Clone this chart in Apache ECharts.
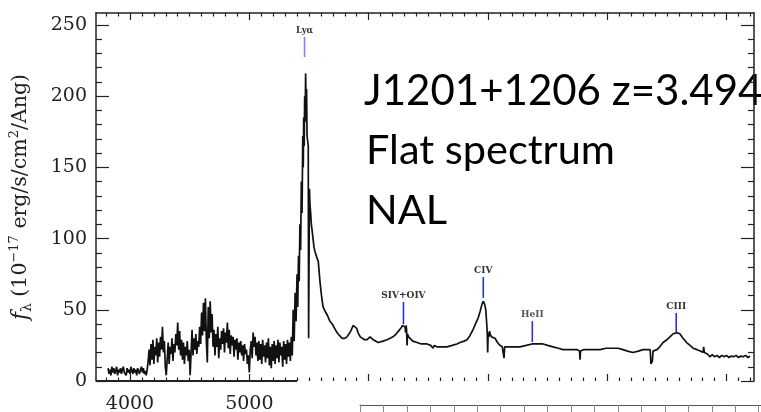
<!DOCTYPE html>
<html>
<head>
<meta charset="utf-8">
<script src="https://cdn.jsdelivr.net/npm/echarts@6/dist/echarts.min.js"></script>
<style>
  html, body { margin: 0; padding: 0; background: #fff; }
  #chart { width: 761px; height: 412px; }
</style>
</head>
<body>
<div id="chart"></div>
<script>
// Observed-frame spectrum of J1201+1206 (wavelength in Angstrom, flux in 1e-17 erg/s/cm^2/Ang)
const wavelength = [
  3816,3824,3832,3840,3848,3856,3864,3872,3880,3888,3896,3904,3912,3920,3928,3936,3944,3952,3960,3968,3976,3984,3992,4000,4008,4016,4024,4032,4040,4048,4056,4064,4072,4080,4088,4096,4104,4112,4120,4128,4136,4144,
  4152,4160,4168,4176,4184,4192,4200,4208,4216,4224,4232,4240,4248,4256,4264,4272,4280,4288,4296,4304,
  4312,4320,4328,4336,4344,4352,4360,4368,4376,4384,4392,4400,4408,4416,4424,4432,4440,4448,4456,4464,4472,4480,4488,4496,4504,
  4512,4520,4528,4536,4544,4552,4560,4568,4576,
  4584,4592,4600,4608,4616,4624,4632,4640,4648,4656,4664,4672,4680,4688,4696,
  4704,4712,4720,4728,4736,4744,4752,4760,4768,4776,4784,4792,4800,4808,4816,4824,4832,4840,4848,4856,
  4864,4872,4880,4888,4896,4904,4912,4920,4928,4936,4944,4952,4960,4968,4976,4984,4992,5000,
  5008,5016,5024,5032,5040,5048,5056,5064,5072,
  5080,5088,5096,5104,5112,5120,5128,5136,5144,5152,5160,5168,5176,5184,5192,5200,5208,5216,5224,5232,5240,5248,5256,5264,5272,5280,5288,5296,5304,5312,5320,5328,5336,5344,5352,
  5360,5368,5376,5384,5392,5400,5406,5412,5418,5424,5430,5436,5442,5448,5452,5456,5460,5464,5468,5472,5476,5480,5484,5490,5494,5497,5501,5504,5508,5514,5520,5526,5534,5542,5550,
  5565,5578,5592,5605,5618,5635,5655,5675,5695,5715,5735,5755,5777,5800,5819,5835,5850,5870,5886,5900,5911,5930,5945,5965,5987,6000,6012,6025,6037,6060,6080,6096,6120,6154,6180,6204,6230,6250,6270,6285,6297,6305,6310,6314,6318,6322,6326,6335,6347,6370,6406,6440,6490,6520,6540,6550,6573,6620,6657,6700,6740,6766,6800,6825,6850,
  6875,6900,6917,6935,6950,6962,6972,6982,6990,6994,6998,7002,7008,7014,7018,7030,7045,7059,7080,7101,7120,7130,7135,7140,7160,7185,7230,7269,7320,7370,7420,7462,7500,7546,7590,7630,7670,7713,7750,7768,7772,7776,7800,7831,7880,7940,7990,8049,8090,8132,8170,8216,8260,8300,8333,8360,8366,8372,8378,8384,8417,8440,8468,8500,8526,8550,8585,8610,8635,8665,8694,8720,8752,8780,8803,8808,8814,8840,8860,8880,8900,8920,8940,8960,8980,9000,9020,9040,9060,9080,9100,9120,9140,9160,9180,9197
];
const flux = [
  9,5,8,4,10,6,9,5,7,10,4,8,6,9,5,8,10,6,7,4,9,6,8,5,10,7,5,9,6,8,4,9,7,5,8,10,6,9,5,7,4,8,
  14,22,11,26,15,29,12,24,18,30,13,27,17,31,22,38,20,28,10,4,
  16,27,12,24,19,30,14,26,20,33,25,41,22,35,18,29,15,27,12,24,18,28,14,22,4,
  20,36,18,30,22,33,19,28,24,
  38,26,48,32,55,35,58,28,13,52,30,56,34,47,24,
  36,18,33,24,38,16,30,22,35,26,37,20,34,27,41,23,36,19,32,25,
  31,17,29,22,30,15,27,20,28,18,25,14,26,19,22,12,18,6,
  22,28,16,34,24,31,18,27,14,
  28,15,26,12,29,17,25,13,27,16,30,11,24,9,26,14,28,12,25,16,29,13,27,18,24,10,28,15,26,12,29,17,27,14,31,
  18,50,28,62,42,75,52,88,70,110,92,140,118,172,150,185,165,200,182,216,190,205,172,168,165,30,30,135,125,118,110,106,100,94,91,
  87,84,70,60,52,49,46,42,40,37,34,32,30,30,31,33,35,39,40,37,34,31,30,29,29,30,31,30,29,28,27,27,28,29,30,31,33,35,37,39,39,38,34,39,36,25,33,31,30,28,27,26,26,25,23,25,24,24,24,25,26,27,28,29,32,
  36,41,44,49,54,56,54,50,40,34,20,34,31,35,33,31,31,30,27,25,24,24,16,24,24,24,24,24,25,26,26,26,25,24,23,22,22,22,22,21,15,21,22,22,22,22,23,23,23,22,21,20,21,22,22,22,12,11,14,21,22,24,27,29,31,33,34,33,30,27,25,23,22,21,20,24,20,19,17,18.5,17,18,16.5,18,17,18,16.5,17.5,17,18,16.5,17.5,17,18,16.5,17.5
];

// Emission-line identifications
const lineNames = ['Lyα', 'SIV+OIV', 'CIV', 'HeII', 'CIII'];
const lineWave = [5463, 6292, 6961, 7372, 8578];
const lineTop = [241.6, 55.5, 73, 42, 47.8];
const lineBottom = [227.5, 40, 58.3, 27.4, 34.4];

// Axis ticks
const xMajorTicks = [4000, 5000, 6000, 7000, 8000, 9000];
const xMinorTicks = [3800, 3900, 4100, 4200, 4300, 4400, 4500, 4600, 4700, 4800, 4900,
  5100, 5200, 5300, 5400, 5500, 5600, 5700, 5800, 5900,
  6100, 6200, 6300, 6400, 6500, 6600, 6700, 6800, 6900,
  7100, 7200, 7300, 7400, 7500, 7600, 7700, 7800, 7900,
  8100, 8200, 8300, 8400, 8500, 8600, 8700, 8800, 8900, 9100, 9200];
const xTickLabels = [4000, 5000];
const yMajorTicks = [0, 50, 100, 150, 200, 250];
const yMinorTicks = [10, 20, 30, 40, 60, 70, 80, 90, 110, 120, 130, 140, 160, 170, 180, 190, 210, 220, 230, 240];

const spectrum = wavelength.map((w, i) => [w, flux[i]]);
const markers = lineWave.map((w, i) => [w, lineTop[i], lineBottom[i]]);

const AX = '#222';
const SERIF = '"DejaVu Serif", "Liberation Serif", serif';
const X_MIN = 3715, X_MAX = 9230, Y_MAX = 258.4;
// the lower frame edge is only drawn up to here; the rest is covered by the panel below
const FRAME_END = 5400;

function xAxisOf(position, ticks, len, withLine, labels) {
  return {
    type: 'value', gridIndex: 0, position, min: X_MIN, max: X_MAX,
    axisLine: { show: withLine, onZero: false, lineStyle: { color: AX, width: 1.5 } },
    axisTick: { show: true, inside: true, length: len, customValues: ticks, lineStyle: { color: AX, width: 1.2 } },
    axisLabel: labels ? { show: true, customValues: labels, margin: 14, fontFamily: SERIF, fontSize: 19, color: '#222',
                          formatter: v => String(v) } : { show: false },
    splitLine: { show: false }
  };
}
function yAxisOf(position, ticks, len, withLine, labels, extra) {
  return Object.assign({
    type: 'value', gridIndex: 0, position, min: 0, max: Y_MAX,
    axisLine: { show: withLine, onZero: false, lineStyle: { color: AX, width: 1.5 } },
    axisTick: { show: true, inside: true, length: len, customValues: ticks, lineStyle: { color: AX, width: 1.2 } },
    axisLabel: labels ? { show: true, customValues: labels, margin: 9, fontFamily: SERIF, fontSize: 19, color: '#222',
                          formatter: v => String(v) } : { show: false },
    splitLine: { show: false }
  }, extra || {});
}

const chart = echarts.init(document.getElementById('chart'), null, { renderer: 'canvas' });
chart.setOption({
  animation: false,
  backgroundColor: '#fff',
  grid: [
    { left: 96, right: 7, top: 13, bottom: 31, outerBoundsMode: 'none' },
    { left: 360, right: 0, top: 405, height: 20, outerBoundsMode: 'none' }
  ],
  xAxis: [
    xAxisOf('bottom', xMajorTicks, 7, false, xTickLabels),
    xAxisOf('bottom', xMinorTicks, 3.5, false, null),
    xAxisOf('top', xMajorTicks, 7, true, null),
    xAxisOf('top', xMinorTicks, 3.5, false, null),
    {
      type: 'value', gridIndex: 1, position: 'top', min: 0, max: 17.1, interval: 1,
      axisLine: { show: true, onZero: false, lineStyle: { color: '#555', width: 1 } },
      axisTick: { show: true, inside: true, length: 9, lineStyle: { color: '#888', width: 1 } },
      axisLabel: { show: false }, splitLine: { show: false }
    }
  ],
  yAxis: [
    yAxisOf('left', yMajorTicks, 13, true, yMajorTicks, {
      name: '{i|f}{sub|λ} (10{sup|−17} erg/s/cm{sup|2}/Ang)',
      nameLocation: 'middle', nameGap: 62, nameRotate: 90,
      nameTextStyle: {
        fontFamily: SERIF, fontSize: 20.5, color: '#222', lineHeight: 26,
        rich: {
          i: { fontFamily: SERIF, fontStyle: 'italic', fontSize: 21.5, color: '#222' },
          sub: { fontFamily: SERIF, fontSize: 14, color: '#222', verticalAlign: 'bottom' },
          sup: { fontFamily: SERIF, fontSize: 13, color: '#222', verticalAlign: 'top' }
        }
      }
    }),
    yAxisOf('left', yMinorTicks, 6, false, null),
    yAxisOf('right', yMajorTicks, 13, true, null),
    yAxisOf('right', yMinorTicks, 6, false, null),
    {
      type: 'value', gridIndex: 1, min: 0, max: 1,
      axisLine: { show: true, onZero: false, lineStyle: { color: '#555', width: 1 } },
      axisTick: { show: false }, axisLabel: { show: false }, splitLine: { show: false }
    }
  ],
  graphic: [
    { type: 'text', left: 364, top: 70, style: { text: 'J1201+1206 z=3.494', font: '42px Lato', fill: '#000' } },
    { type: 'text', left: 366, top: 130, style: { text: 'Flat spectrum', font: '41.5px Lato', fill: '#000' } },
    { type: 'text', left: 366, top: 190, style: { text: 'NAL', font: '41.5px Lato', fill: '#000' } }
  ],
  series: [
    {
      type: 'line', xAxisIndex: 0, yAxisIndex: 0, data: spectrum,
      showSymbol: false, symbol: 'none', clip: false,
      lineStyle: { color: '#111', width: 1.7 },
      z: 3,
      markLine: {
        silent: true, symbol: ['none', 'none'], label: { show: false },
        lineStyle: { color: AX, width: 2, type: 'solid' },
        data: [[{ coord: [X_MIN, 0] }, { coord: [FRAME_END, 0] }]]
      }
    },
    {
      type: 'custom', xAxisIndex: 0, yAxisIndex: 0, data: markers, z: 4,
      renderItem(params, api) {
        const p0 = api.coord([api.value(0), api.value(1)]);
        const p1 = api.coord([api.value(0), api.value(2)]);
        const name = lineNames[params.dataIndex];
        return {
          type: 'group',
          children: [
            { type: 'line', shape: { x1: p0[0], y1: p0[1], x2: p1[0], y2: p1[1] },
              style: { stroke: params.dataIndex === 0 ? '#7d84f2' : '#2233e6', lineWidth: 1.6 } },
            { type: 'text', x: p0[0], y: p0[1] - 2,
              style: { text: name, align: 'center', verticalAlign: 'bottom',
                       font: 'bold ' + (params.dataIndex === 0 ? 8.5 : 9) + 'px "DejaVu Serif"',
                       fill: params.dataIndex === 3 ? '#555' : '#333' } }
          ]
        };
      }
    }
  ]
});
</script>
</body>
</html>
